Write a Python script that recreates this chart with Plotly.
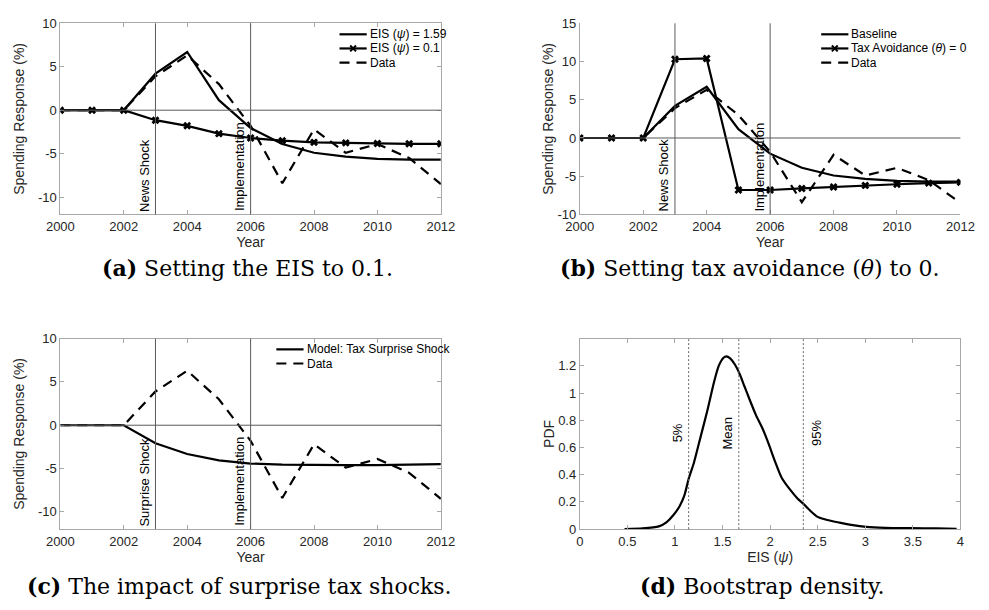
import plotly.graph_objects as go

# ---------------------------------------------------------------- data
years = list(range(2000, 2013))
baseline = [0, 0, 0, 4.2, 6.7, 1.15, -2.05, -3.9, -4.9, -5.35, -5.6, -5.7, -5.7]
eis_low = [0, 0, 0, -1.15, -1.8, -2.7, -3.2, -3.5, -3.7, -3.76, -3.83, -3.87, -3.87]
data_resp = [0, 0, 0, 3.9, 6.3, 3.0, -1.8, -8.4, -2.2, -4.9, -3.9, -5.5, -8.5]
no_avoid = [0, 0, 0, 10.3, 10.4, -6.8, -6.8, -6.6, -6.4, -6.2, -6.05, -5.9, -5.8]
surprise = [0, 0, 0, -2.08, -3.33, -4.05, -4.43, -4.55, -4.6, -4.6, -4.6, -4.55, -4.5]

event_years = [2003, 2006]
labels_a = ["News Shock", "Implementation"]
labels_c = ["Surprise Shock", "Implementation"]

eis_grid = [0.47, 0.66, 0.83, 0.91, 0.98, 1.05, 1.10, 1.144, 1.20, 1.27, 1.34,
            1.41, 1.46, 1.51, 1.54, 1.58, 1.63, 1.68, 1.73, 1.78, 1.85, 1.92,
            1.98, 2.05, 2.12, 2.21, 2.29, 2.35, 2.43, 2.50, 2.60, 2.73, 2.87,
            3.01, 3.21, 3.48, 3.75, 3.96]
eis_pdf = [0.0, 0.005, 0.02, 0.05, 0.10, 0.17, 0.25, 0.37, 0.49, 0.68, 0.87,
           1.08, 1.20, 1.26, 1.27, 1.255, 1.21, 1.14, 1.05, 0.96, 0.84, 0.74,
           0.635, 0.50, 0.38, 0.29, 0.224, 0.186, 0.13, 0.09, 0.067, 0.048,
           0.029, 0.017, 0.01, 0.007, 0.005, 0.002]
eis_marks = [1.144, 1.671, 2.349]
eis_mark_labels = ["5%", "Mean", "95%"]

year_ticks = [2000, 2002, 2004, 2006, 2008, 2010, 2012]
resp_ticks_a = [-10, -5, 0, 5, 10]
resp_ticks_b = [-10, -5, 0, 5, 10, 15]
eis_ticks = [0, 0.5, 1, 1.5, 2, 2.5, 3, 3.5, 4]
eis_tick_text = ["0", "0.5", "1", "1.5", "2", "2.5", "3", "3.5", "4"]
pdf_ticks = [0, 0.2, 0.4, 0.6, 0.8, 1, 1.2]
pdf_tick_text = ["0", "0.2", "0.4", "0.6", "0.8", "1", "1.2"]

captions = ["<b>(a)</b> Setting the EIS to 0.1.",
            "<b>(b)</b> Setting tax avoidance (<i>θ</i>) to 0.",
            "<b>(c)</b> The impact of surprise tax shocks.",
            "<b>(d)</b> Bootstrap density."]

# ---------------------------------------------------------------- styling
W, H = 989, 610
SANS = "Liberation Sans, Arial, sans-serif"
SERIF = "DejaVu Serif, serif"
TXT = "#262626"
AX = "#a8a8a8"
REF = "#5a5a5a"
LW = 2.2
DASH = "10px,7px"


def fx(px):
    return px / W


def fy(py):
    return 1 - py / H


fig = go.Figure()


def line(xs, ys, ax, dash=None, marker=False):
    kw = dict(x=xs, y=ys, mode="lines+markers" if marker else "lines",
              line=dict(color="black", width=LW, dash=dash),
              xaxis="x" + ax, yaxis="y" + ax, showlegend=False,
              hoverinfo="skip")
    if marker:
        kw["marker"] = dict(symbol="x", size=7, color="black")
    fig.add_trace(go.Scatter(**kw))


# (a) EIS comparison
line(years, baseline, "")
line(years, eis_low, "", marker=True)
line(years, data_resp, "", dash=DASH)
# (b) tax avoidance
line(years, baseline, "2")
line(years, no_avoid, "2", marker=True)
line(years, data_resp, "2", dash=DASH)
# (c) surprise shock
line(years, surprise, "3")
line(years, data_resp, "3", dash=DASH)
# (d) bootstrap density
fig.add_trace(go.Scatter(x=eis_grid, y=eis_pdf, mode="lines",
                         line=dict(color="black", width=LW, shape="spline",
                                   smoothing=0.6),
                         xaxis="x4", yaxis="y4", showlegend=False,
                         hoverinfo="skip"))

tickfont = dict(family=SANS, size=13, color=TXT)
titlefont = dict(family=SANS, size=14, color=TXT)


def axis(domain, rng, tickvals, ticktext, title, mirror, anchor, standoff):
    return dict(domain=domain, range=rng, tickvals=tickvals, ticktext=ticktext,
                showgrid=False, zeroline=False, showline=True, linecolor=AX,
                linewidth=1, ticks="inside", ticklen=4, tickcolor=AX,
                mirror="ticks" if mirror else False, tickfont=tickfont,
                title=dict(text=title, font=titlefont, standoff=standoff),
                anchor=anchor)


xa = [fx(47.7), fx(439.3)]
xb = [fx(582.3), fx(974)]
ytop = [fy(212.7), fy(16.7)]
ybot = [fy(535.3), fy(340)]

yr = [str(v) for v in year_ticks]
fig.update_layout(
    width=W, height=H, margin=dict(l=0, r=0, t=0, b=0),
    paper_bgcolor="white", plot_bgcolor="white",
    xaxis=axis(xa, [2000, 2012], year_ticks, yr, "Year", True, "y", 2),
    yaxis=axis(ytop, [-12, 10], resp_ticks_a, [str(v) for v in resp_ticks_a],
               "Spending Response (%)", True, "x", 10),
    xaxis2=axis(xb, [2000, 2012], year_ticks, yr, "Year", False, "y2", 2),
    yaxis2=axis(ytop, [-10, 15], resp_ticks_b, [str(v) for v in resp_ticks_b],
                "Spending Response (%)", False, "x2", 0),
    xaxis3=axis(xa, [2000, 2012], year_ticks, yr, "Year", True, "y3", 2),
    yaxis3=axis(ybot, [-12, 10], resp_ticks_a, [str(v) for v in resp_ticks_a],
                "Spending Response (%)", True, "x3", 10),
    xaxis4=axis(xb, [0, 4], eis_ticks, eis_tick_text, "EIS (<i>ψ</i>)", True,
                "y4", 2),
    yaxis4=axis(ybot, [0, 1.4], pdf_ticks, pdf_tick_text, "PDF", True, "x4", 0),
)

shapes = []
annotations = []

# reference lines: zero response and the event years
for ax, ylo in (("", -12), ("2", -10), ("3", -12)):
    shapes.append(dict(type="line", xref="x" + ax + " domain", yref="y" + ax,
                       x0=0, x1=1, y0=0, y1=0,
                       line=dict(color=REF, width=1)))
    for yv in event_years:
        shapes.append(dict(type="line", xref="x" + ax, yref="y" + ax + " domain",
                           x0=yv, x1=yv, y0=0, y1=1,
                           line=dict(color=REF, width=1)))
    names = labels_c if ax == "3" else labels_a
    for yv, name in zip(event_years, names):
        annotations.append(dict(x=yv, y=ylo, xref="x" + ax, yref="y" + ax,
                                text=name, textangle=-90, showarrow=False,
                                xanchor="right", yanchor="bottom", xshift=-1,
                                yshift=1, font=dict(family=SANS, size=13,
                                                    color="black")))

# percentile / mean markers on the density
for i, (v, name) in enumerate(zip(eis_marks, eis_mark_labels)):
    shapes.append(dict(type="line", xref="x4", yref="y4 domain", x0=v, x1=v,
                       y0=0, y1=1, line=dict(color="#666666", width=1,
                                             dash="2px,2px")))
    right = i == len(eis_marks) - 1
    annotations.append(dict(x=v, y=0.705, xref="x4", yref="y4", text=name,
                            textangle=-90, showarrow=False,
                            xanchor="left" if right else "right",
                            yanchor="middle", xshift=3 if right else -2,
                            font=dict(family=SANS, size=13, color="black")))


# legends drawn in page coordinates
def legend(x0, top, rows):
    for i, (name, dash, marker) in enumerate(rows):
        ly = top + 14.5 * i
        shapes.append(dict(type="line", xref="paper", yref="paper",
                           x0=fx(x0), x1=fx(x0 + 28), y0=fy(ly), y1=fy(ly),
                           line=dict(color="black", width=LW,
                                     dash=DASH if dash else None)))
        if marker:
            c = x0 + 14
            shapes.append(dict(type="path", xref="paper", yref="paper",
                               path=(f"M{fx(c-3)},{fy(ly-3)} L{fx(c+3)},{fy(ly+3)} "
                                     f"M{fx(c-3)},{fy(ly+3)} L{fx(c+3)},{fy(ly-3)}"),
                               line=dict(color="black", width=2)))
        annotations.append(dict(x=fx(x0 + 29), y=fy(ly), xref="paper",
                                yref="paper", text=name, showarrow=False,
                                xanchor="left", yanchor="middle",
                                font=dict(family=SANS, size=12, color="black")))


legend_a = [("EIS (<i>ψ</i>) = 1.59", False, False),
            ("EIS (<i>ψ</i>) = 0.1", False, True),
            ("Data", True, False)]
legend_b = [("Baseline", False, False),
            ("Tax Avoidance (<i>θ</i>) = 0", False, True),
            ("Data", True, False)]
legend_c = [("Model: Tax Surprise Shock", False, False),
            ("Data", True, False)]
legend(335, 28, legend_a)
legend(830.7, 28, legend_b)
legend(270, 351, legend_c)

# captions
for (cx, cy), text in zip([(240, 268), (757, 268), (232, 594), (770, 594)],
                          captions):
    annotations.append(dict(x=fx(cx), y=fy(cy), xref="paper", yref="paper",
                            text=text, showarrow=False, xanchor="center",
                            yanchor="middle",
                            font=dict(family=SERIF, size=22, color="black")))

fig.update_layout(shapes=shapes, annotations=annotations)
fig.write_html("out.html")
